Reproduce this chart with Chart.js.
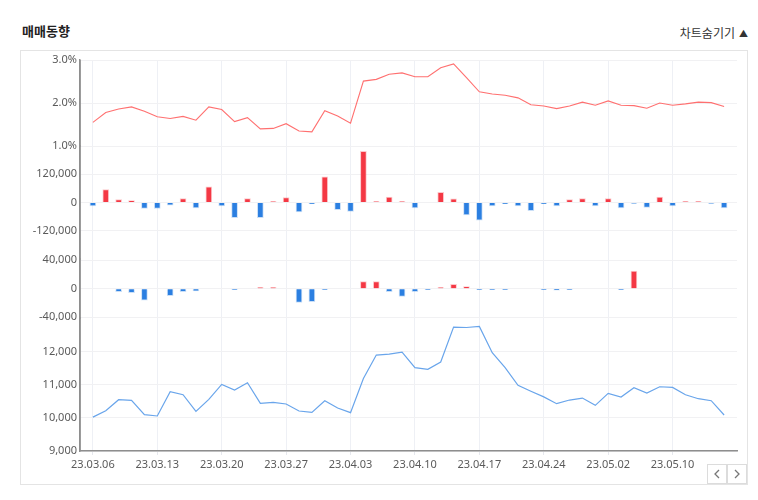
<!DOCTYPE html>
<html lang="ko">
<head>
<meta charset="utf-8">
<script src="https://cdn.jsdelivr.net/npm/chart.js@4.4.1/dist/chart.umd.min.js"></script>
<style>
  html, body { margin: 0; padding: 0; background: #fff; }
  body { width: 758px; height: 500px; position: relative; overflow: hidden;
         font-family: 'Noto Sans CJK KR', 'Noto Sans', sans-serif; }
  #title { position: absolute; left: 22px; top: 21px; font-size: 13px; font-weight: bold; color: #222; }
  #toggle { position: absolute; right: 10px; top: 24px; font-size: 12px; color: #333; }
  #toggle span { font-size: 9px; margin-left: 4px; position: relative; top: -1px; }
  #frame { position: absolute; left: 20px; top: 50px; width: 726px; height: 433px;
           border: 1px solid #e4e4e4; }
  #chartWrap { position: absolute; left: 0; top: 0; width: 758px; height: 500px; }
  .nav { position: absolute; top: 464px; width: 18px; height: 18px; border: 1px solid #dcdcdc; background: #fff; }
  .nav svg { position: absolute; left: 5px; top: 4px; }
</style>
</head>
<body>
<div id="title">매매동향</div>
<div id="toggle">차트숨기기<span>▲</span></div>
<div id="frame"></div>
<div id="chartWrap"><canvas id="c" width="758" height="500"></canvas></div>
<div class="nav" style="left:707px"><svg width="8" height="10"><polyline points="6,1 2,5 6,9" fill="none" stroke="#777" stroke-width="1.3"/></svg></div>
<div class="nav" style="left:727px"><svg width="8" height="10"><polyline points="2,1 6,5 2,9" fill="none" stroke="#777" stroke-width="1.3"/></svg></div>
<script>
// ---- data ----
const dates = [
  '23.03.06','23.03.07','23.03.08','23.03.09','23.03.10',
  '23.03.13','23.03.14','23.03.15','23.03.16','23.03.17',
  '23.03.20','23.03.21','23.03.22','23.03.23','23.03.24',
  '23.03.27','23.03.28','23.03.29','23.03.30','23.03.31',
  '23.04.03','23.04.04','23.04.05','23.04.06','23.04.07',
  '23.04.10','23.04.11','23.04.12','23.04.13','23.04.14',
  '23.04.17','23.04.18','23.04.19','23.04.20','23.04.21',
  '23.04.24','23.04.25','23.04.26','23.04.27','23.04.28',
  '23.05.02','23.05.03','23.05.04','23.05.08','23.05.09',
  '23.05.10','23.05.11','23.05.12','23.05.15','23.05.16'
];
const rateValues = [
  1.55,1.78,1.86,1.91,1.81,1.68,1.64,1.69,1.60,1.91,
  1.85,1.57,1.66,1.40,1.41,1.52,1.35,1.33,1.82,1.70,
  1.53,2.51,2.55,2.67,2.70,2.61,2.61,2.82,2.91,2.59,
  2.26,2.21,2.18,2.12,1.96,1.93,1.87,1.93,2.02,1.95,
  2.05,1.95,1.94,1.88,2.00,1.95,1.98,2.02,2.01,1.92
];
const trade1Values = [
  -14000,55000,13000,8500,-25000,-25000,-11000,17000,-23000,67000,
  -14000,-64000,17000,-64000,4000,21000,-40000,-5000,109000,-30000,
  -37000,218000,4000,23000,4000,-23000,0,44000,16000,-52000,
  -75000,-14000,-5000,-14000,-34000,-5000,-14000,13000,17000,-14000,
  17000,-23000,-3000,-20000,24000,-14000,4000,4000,-3000,-23000
];
const trade2Values = [
  0,0,-4300,-5700,-16000,0,-10000,-4300,-3300,0,
  0,-1500,0,1500,1500,0,-19400,-18400,-1500,0,
  0,10000,10000,-4300,-11000,-4300,-1500,1500,6000,3000,
  -1500,-1500,-1500,0,0,-1500,-2000,-1500,0,0,
  0,-1500,24600,0,0,0,0,0,0,0
];
const priceValues = [
  10020,10215,10545,10525,10095,10055,10785,10695,10195,10555,
  11005,10835,11055,10435,10465,10415,10205,10165,10515,10295,
  10155,11185,11890,11920,11980,11510,11460,11680,12730,12720,
  12750,11960,11510,10980,10800,10630,10425,10535,10595,10375,
  10735,10625,10905,10745,10935,10915,10695,10575,10515,10085
];
const xTickIndex = [0,5,10,15,20,25,30,35,40,45];
const rateTicks = [1,2,3];
const trade1Ticks = [-120000,0,120000];
const trade2Ticks = [-40000,0,40000];
const priceTicks = [9000,10000,11000,12000];

// ---- chart ----
const RED = 'rgb(244,56,68)', RED_B = 'rgba(244,56,68,0.28)';
const BLUE = 'rgb(43,127,225)', BLUE_B = 'rgba(43,127,225,0.25)';
const pts = arr => arr.map((v, i) => ({ x: i, y: v }));
const fmtNum = v => v.toLocaleString('en-US');
const GRID = '#f1f1f3';
const AXIS = '#8e8e8e';

Chart.defaults.font.family = "'Noto Sans', 'Noto Sans CJK KR', sans-serif";
Chart.defaults.font.size = 11;
Chart.defaults.color = '#5a5a5a';

function yAxis(min, max, ticks, weight, order, fmt) {
  return {
    type: 'linear', position: 'left', stack: 'panels', stackWeight: weight, weight: order,
    min: min, max: max, offset: false,
    afterBuildTicks: ax => { ax.ticks = ticks.map(v => ({ value: v })); },
    afterFit: ax => { ax.width = 58; },
    ticks: { callback: fmt, padding: 3, color: '#5a5a5a', autoSkip: false },
    grid: { color: GRID, drawTicks: false },
    border: { display: true, color: AXIS, width: 1.5 }
  };
}

const barStyle = {
  backgroundColor: ctx => (ctx.raw && ctx.raw.y >= 0) ? RED : BLUE,
  borderColor: ctx => (ctx.raw && ctx.raw.y >= 0) ? RED_B : BLUE_B,
  borderWidth: 1,
  barThickness: 6,
  grouped: false
};

// draws the left axis line across all stacked panels
const leftAxisLine = {
  id: 'leftAxisLine',
  afterDraw(chart) {
    const a = chart.chartArea, ctx = chart.ctx;
    ctx.save();
    ctx.strokeStyle = AXIS; ctx.lineWidth = 1.5;
    ctx.beginPath(); ctx.moveTo(a.left, a.top); ctx.lineTo(a.left, a.bottom); ctx.stroke();
    ctx.restore();
  }
};

new Chart(document.getElementById('c'), {
  data: {
    datasets: [
      { type: 'line', data: pts(rateValues), yAxisID: 'yRate', borderColor: 'rgb(255,112,112)', borderWidth: 1.1, pointRadius: 0, tension: 0 },
      Object.assign({ type: 'bar', data: pts(trade1Values), yAxisID: 'yT1' }, barStyle),
      Object.assign({ type: 'bar', data: pts(trade2Values), yAxisID: 'yT2' }, barStyle),
      { type: 'line', data: pts(priceValues), yAxisID: 'yPrice', borderColor: 'rgb(105,165,235)', borderWidth: 1.2, pointRadius: 0, tension: 0 }
    ]
  },
  plugins: [leftAxisLine],
  options: {
    responsive: false, animation: false,
    layout: { padding: { left: 22, right: 21, top: 60, bottom: 19 } },
    plugins: { legend: { display: false }, tooltip: { enabled: false } },
    scales: {
      x: {
        type: 'linear', min: -1, max: 50, offset: false,
        afterBuildTicks: ax => { ax.ticks = xTickIndex.map(v => ({ value: v })); },
        afterFit: ax => { ax.height = 30; },
        ticks: { callback: v => dates[v], maxRotation: 0, autoSkip: false, padding: 3, color: '#5a5a5a' },
        grid: { color: '#eef0f5', tickLength: 4, tickColor: '#e6e8ee', offset: false },
        border: { display: true, color: AXIS, width: 1.5 }
      },
      yRate: yAxis(1, 3, rateTicks, 86, 4, v => v.toFixed(1) + '%'),
      yT1: yAxis(-240000, 240000, trade1Ticks, 113, 3, fmtNum),
      yT2: yAxis(-41500, 41500, trade2Ticks, 59, 2, fmtNum),
      yPrice: yAxis(9000, 13000, priceTicks, 132.7, 1, fmtNum)
    }
  }
});
</script>
</body>
</html>
